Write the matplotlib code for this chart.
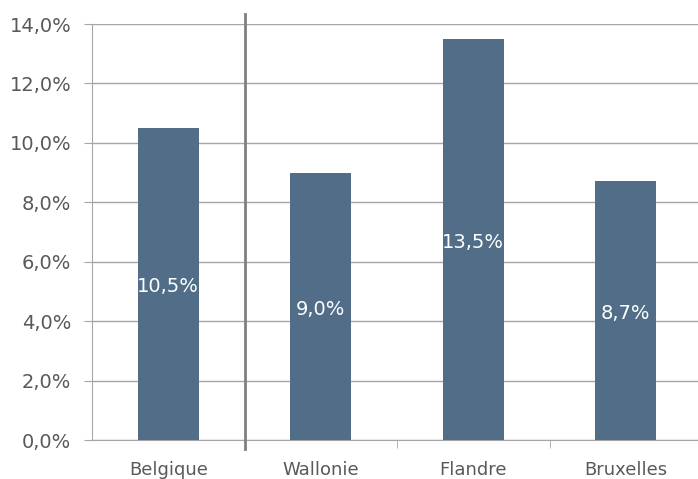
import matplotlib.pyplot as plt
from matplotlib.ticker import FixedLocator

regions = ['Belgique', 'Wallonie', 'Flandre', 'Bruxelles']
values = [10.5, 9.0, 13.5, 8.7]
yticks = [0, 2, 4, 6, 8, 10, 12, 14]

fig = plt.figure(figsize=(6.98, 4.79), dpi=100)
ax = fig.add_axes([92 / 698, 39 / 479, 606 / 698, 416 / 479])

x = range(len(regions))
ax.bar(x, values, width=0.4, color='#516d87', zorder=3)

for i, v in zip(x, values):
    ax.text(i, v / 2 - 0.1, f'{v:.1f}%'.replace('.', ','), ha='center', va='center',
            color='white', fontsize=14, zorder=4)

ax.set_xlim(-0.5, -0.5 + 606 / 152.5)
ax.set_ylim(0, 14)
ax.set_yticks(yticks)
ax.set_yticklabels([f'{t:.1f}%'.replace('.', ',') for t in yticks])
ax.set_xticks(list(x))
ax.set_xticklabels(regions)
ax.xaxis.set_minor_locator(FixedLocator([1.5, 2.5]))

ax.grid(axis='y', color='#a6a6a6', linewidth=1, zorder=1)
ax.tick_params(axis='y', length=6, color='#a6a6a6', labelsize=14, labelcolor='#595959', pad=9)
ax.tick_params(axis='x', which='major', length=0, labelsize=13, labelcolor='#595959', pad=15)
ax.tick_params(axis='x', which='minor', length=6, color='#a6a6a6')

for s in ['top', 'right']:
    ax.spines[s].set_visible(False)
for s in ['left', 'bottom']:
    ax.spines[s].set_color('#a6a6a6')

ax.axvline(0.5, ymin=-9 / 416, ymax=1 + 10 / 416, color='#7f7f7f', linewidth=2,
           clip_on=False, zorder=5)

fig.savefig('out.png', dpi=100)
